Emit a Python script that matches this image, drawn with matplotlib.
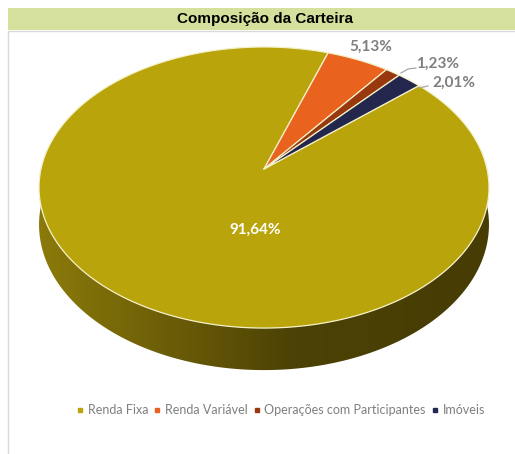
import numpy as np
import matplotlib
matplotlib.use("Agg")
import matplotlib.pyplot as plt
from matplotlib.patches import Polygon, Rectangle
from matplotlib.lines import Line2D
from matplotlib.colors import to_rgb

# ---- data ----
categories = ["Renda Fixa", "Renda Variável", "Operações com Participantes", "Imóveis"]
values = [91.64, 5.13, 1.23, 2.01]
value_labels = ["91,64%", "5,13%", "1,23%", "2,01%"]
title = "Composição da Carteira"

colors = ["#b9a40b", "#e9631f", "#98380f", "#23264d"]

# ---- figure in pixel coordinates ----
W, H = 515, 454
fig = plt.figure(figsize=(W / 100, H / 100), dpi=100)
ax = fig.add_axes([0, 0, 1, 1])
ax.set_xlim(0, W)
ax.set_ylim(H, 0)
ax.axis("off")

# frame and title bar
ax.add_patch(Rectangle((8, 31), 600, 500, facecolor="white", edgecolor="#d9d9d9", lw=1.0, zorder=0))
ax.add_patch(Rectangle((8, 8), 600, 22, facecolor="#d4e09b", edgecolor="none", zorder=1))
ax.text(265, 19.5, title, ha="center", va="center", fontsize=11, fontweight="bold",
        family=["Liberation Sans Narrow", "Liberation Sans", "DejaVu Sans"], color="black", zorder=2)

# ---- 3D pie geometry (perspective) ----
cx, cy = 264, 169
A, B, p = 223, 138.1, 0.1317
depth = 36.5
start = 49.0  # degrees clockwise from 12 o'clock


def proj(theta_deg, r=1.0):
    t = np.radians(theta_deg)
    X, Z = r * np.sin(t), r * np.cos(t)
    w = 1.0 / (1.0 + p * Z)
    return cx + A * X * w, cy - B * Z * w, w


# side (front part, belongs to first slice) as one polygon with gradient fill
thetas = np.linspace(90, 270, 300)
top_edge = [proj(t) for t in thetas]
side_pts = [(x, y) for x, y, w in top_edge] + [(x, y + depth * w) for x, y, w in top_edge[::-1]]
side_poly = Polygon(side_pts, closed=True, facecolor="none", edgecolor="none", zorder=3)
ax.add_patch(side_poly)

c_left = np.array(to_rgb("#8a790a"))
c_mid = np.array(to_rgb("#4d4205"))
c_right = np.array(to_rgb("#463c04"))
xs = np.linspace(35, 495, 460)
grad = np.zeros((1, len(xs), 3))
for i, xv in enumerate(xs):
    if xv < 290:
        f = np.clip((xv - 45) / (290 - 45), 0, 1)
        grad[0, i] = c_left * (1 - f) + c_mid * f
    else:
        f = np.clip((xv - 290) / (490 - 290), 0, 1)
        grad[0, i] = c_mid * (1 - f) + c_right * f
im = ax.imshow(grad, extent=(35, 495, 380, 160), aspect="auto", zorder=3, interpolation="bilinear")
im.set_clip_path(side_poly)
ax.set_xlim(0, W)
ax.set_ylim(H, 0)

# top faces
fracs = np.array(values) / np.sum(values) * 360.0
a0 = start
for val, frac, col in zip(values, fracs, colors):
    a1 = a0 + frac
    ts = np.linspace(a0, a1, max(int(frac * 2), 4))
    pts = [(cx, cy)] + [proj(t)[:2] for t in ts]
    ax.add_patch(Polygon(pts, closed=True, facecolor=col, edgecolor="#f4f0c8", lw=0.9,
                         joinstyle="round", zorder=4))
    a0 = a1

# ---- labels ----
lab_font = ["Lato", "DejaVu Sans"]
ax.text(255, 230, value_labels[0], ha="center", va="center", fontsize=11, fontweight="bold",
        color="white", family=lab_font, zorder=6)
ax.text(371, 47, value_labels[1], ha="center", va="center", fontsize=11, fontweight="bold",
        color="#7f7f7f", family=lab_font, zorder=6)
ax.text(438, 64, value_labels[2], ha="center", va="center", fontsize=11, fontweight="bold",
        color="#7f7f7f", family=lab_font, zorder=6)
ax.text(454, 83, value_labels[3], ha="center", va="center", fontsize=11, fontweight="bold",
        color="#7f7f7f", family=lab_font, zorder=6)
# leader lines
ax.plot([401, 408, 416], [73, 69, 68], color="#a6a6a6", lw=0.9, zorder=5)
ax.plot([419, 428], [88, 86], color="#a6a6a6", lw=0.9, zorder=5)

# ---- legend ----
handles = [Line2D([0], [0], marker="s", linestyle="none", markersize=3.2,
                  markerfacecolor=c, markeredgecolor=c) for c in colors]
leg = ax.legend(handles, categories, loc="center", bbox_to_anchor=(281 / W, 1 - 410 / H),
                ncol=4, frameon=False, handlelength=0.5, handletextpad=0.35,
                columnspacing=0.5, prop={"family": lab_font, "size": 9})
for t in leg.get_texts():
    t.set_color("#7f7f7f")

fig.savefig("out.png", dpi=100)
